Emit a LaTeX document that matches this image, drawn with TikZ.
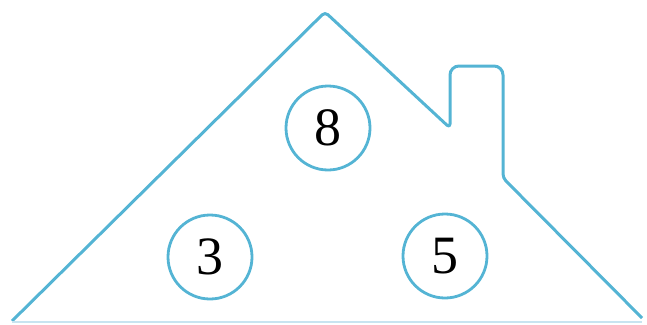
\documentclass[tikz,border=0pt]{standalone}
\usepackage{fontspec}
\setmainfont{Liberation Serif}
\usetikzlibrary{positioning}
\definecolor{roofblue}{RGB}{84,180,212}
\definecolor{floorblue}{RGB}{200,228,240}

\begin{document}
\begin{tikzpicture}[x=1pt,y=-1pt]
\tikzset{digit/.style={circle,draw=roofblue,line width=2.8pt,minimum size=84pt,inner sep=0pt,font=\fontsize{54}{64}\selectfont}}
\useasboundingbox (0,0) rectangle (647,324);
% house outline with chimney
\draw[roofblue,line width=3pt,rounded corners=4pt,line join=round]
  (12,321) -- (325,12) -- (450,128) [rounded corners=9pt] -- (450,66) -- (503,66)
  [rounded corners=4pt] -- (503,178) -- (642,318);
\draw[floorblue,line width=1.5pt] (12,322) -- (642,322);
\node[digit] (top) at (328,128) {8};
\node[digit] (left) at (210,257) {3};
\node[digit] (right) at (445,256) {5};
\end{tikzpicture}
\end{document}
